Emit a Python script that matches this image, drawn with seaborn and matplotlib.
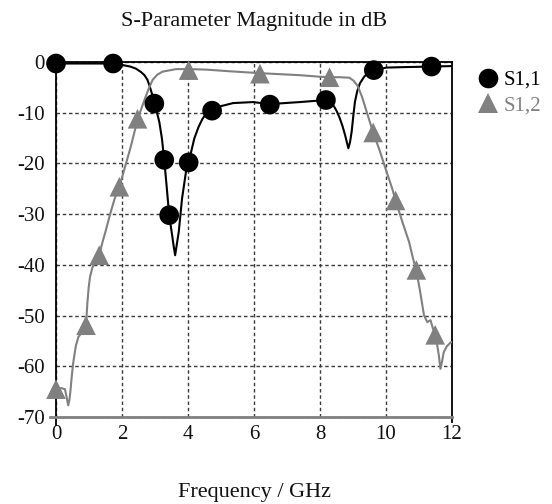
import matplotlib
matplotlib.use("Agg")
import matplotlib.pyplot as plt
import seaborn as sns
import pandas as pd

# ---- data ----
s11_curve_f = [0.0, 1.0, 1.73, 2.02, 2.25, 2.42, 2.58, 2.68, 2.77, 2.83, 2.91, 2.98,
               3.06, 3.13, 3.21, 3.28, 3.35, 3.43, 3.52, 3.57, 3.61, 3.66, 3.72, 3.82,
               3.94, 4.02, 4.19, 4.32, 4.44, 4.55, 4.73, 5.0, 5.37, 5.97, 6.48, 7.39,
               8.18, 8.30, 8.40, 8.50, 8.60, 8.68, 8.76, 8.82, 8.86, 8.91, 8.96, 9.01,
               9.06, 9.13, 9.21, 9.35, 9.50, 9.63, 10.02, 10.6, 11.38, 12.0]
s11_curve_db = [-0.3, -0.3, -0.3, -0.6, -0.9, -1.3, -2.0, -2.6, -3.5, -4.6, -6.3, -8.2,
                -10.0, -11.8, -15.1, -19.3, -24.3, -30.2, -34.2, -36.5, -38.1, -36.0, -33.5, -26.9,
                -21.6, -19.8, -15.1, -12.8, -11.2, -10.2, -9.6, -8.7, -8.1, -7.9, -8.3, -7.9,
                -7.5, -7.8, -8.5, -9.6, -11.1, -12.6, -14.4, -16.0, -17.0, -15.8, -13.7, -10.6,
                -7.8, -5.7, -4.2, -2.8, -2.1, -1.6, -1.1, -1.0, -0.9, -0.8]

s12_curve_f = [0.0, 0.15, 0.27, 0.32, 0.37, 0.41, 0.44, 0.48, 0.52, 0.6, 0.68, 0.8,
               0.91, 0.95, 0.99, 1.03, 1.1, 1.18, 1.31, 1.41, 1.51, 1.64, 1.77, 1.92,
               2.07, 2.27, 2.47, 2.58, 2.68, 2.80, 2.93, 3.07, 3.23, 3.64, 4.02, 4.55,
               5.2, 6.18, 7.39, 7.99, 8.29, 8.6, 8.89, 9.02, 9.14, 9.27, 9.39, 9.50,
               9.61, 9.79, 9.99, 10.19, 10.29, 10.5, 10.7, 10.81, 10.92, 11.02, 11.15, 11.25,
               11.35, 11.42, 11.49, 11.55, 11.6, 11.65, 11.70, 11.75, 11.85, 11.96, 12.0]
s12_curve_db = [-64.5, -64.3, -64.5, -66.0, -67.7, -66.5, -64.7, -61.8, -59.4, -56.0, -54.2, -53.2,
                -51.9, -47.6, -44.5, -42.4, -40.6, -39.4, -38.1, -35.5, -33.2, -30.0, -27.1, -24.6,
                -21.2, -16.6, -11.4, -9.3, -7.5, -5.4, -3.5, -2.5, -1.9, -1.4, -1.4, -1.5,
                -1.8, -2.2, -2.6, -2.9, -3.0, -3.0, -3.1, -3.7, -4.7, -6.8, -9.3, -11.6,
                -13.9, -17.1, -21.1, -25.0, -27.3, -31.6, -35.5, -38.5, -41.2, -44.7, -49.9, -51.3,
                -50.9, -52.5, -53.9, -55.8, -57.8, -60.5, -59.0, -57.2, -56.0, -55.3, -55.2]

s11_mark_f = [0.0, 1.73, 2.98, 3.28, 3.43, 4.02, 4.73, 6.48, 8.18, 9.63, 11.38]
s11_mark_db = [-0.3, -0.3, -8.2, -19.3, -30.2, -19.8, -9.6, -8.4, -7.5, -1.6, -0.9]

s12_mark_f = [0.0, 0.91, 1.31, 1.92, 2.47, 4.02, 6.18, 8.29, 9.61, 10.29, 10.92, 11.49]
s12_mark_db = [-64.5, -51.9, -38.1, -24.6, -11.2, -1.6, -2.3, -3.0, -13.9, -27.3, -41.0, -53.8]

series_names = ["S1,1", "S1,2"]
x_ticks = [0, 2, 4, 6, 8, 10, 12]
y_ticks = [0, -10, -20, -30, -40, -50, -60, -70]
title = "S-Parameter Magnitude in dB"
x_label = "Frequency / GHz"

# ---- style ----
sns.set_style("white")
plt.rcParams["font.family"] = ["Liberation Serif", "DejaVu Serif"]
plt.rcParams["axes.unicode_minus"] = False

colors = {"S1,1": "#000000", "S1,2": "#808080"}
markers = {"S1,1": "o", "S1,2": "^"}

curves = pd.concat([
    pd.DataFrame({"f": s11_curve_f, "db": s11_curve_db, "series": series_names[0]}),
    pd.DataFrame({"f": s12_curve_f, "db": s12_curve_db, "series": series_names[1]}),
])
marks = pd.concat([
    pd.DataFrame({"f": s11_mark_f, "db": s11_mark_db, "series": series_names[0]}),
    pd.DataFrame({"f": s12_mark_f, "db": s12_mark_db, "series": series_names[1]}),
])

fig = plt.figure(figsize=(5.52, 5.04), dpi=100)
ax = fig.add_axes([56 / 552, 1 - 417 / 504, (452 - 56) / 552, (417 - 62) / 504])

sns.lineplot(data=curves, x="f", y="db", hue="series", palette=colors,
             estimator=None, sort=False, linewidth=1.5, legend=False, ax=ax, zorder=3)
sns.scatterplot(data=marks, x="f", y="db", hue="series", style="series",
                palette=colors, markers=markers, s=200, edgecolor="none",
                ax=ax, zorder=4, clip_on=False)

ax.set_xlim(0, 12)
ax.set_ylim(-70, 0)
ax.set_xticks(x_ticks)
ax.set_yticks(y_ticks)
ax.set_xticklabels([str(t) for t in x_ticks])
ax.set_yticklabels([str(t) for t in y_ticks])
ax.tick_params(axis="both", length=0, labelsize=15, colors="#111111")
ax.tick_params(axis="y", pad=8)
ax.tick_params(axis="x", pad=6)

ax.grid(True, color="#3a3a3a", linestyle=(0, (2.5, 2.0)), linewidth=1.0)
ax.set_axisbelow(True)

for side in ["left", "top", "right"]:
    ax.spines[side].set_color("#000000")
    ax.spines[side].set_linewidth(1.3)
ax.spines["bottom"].set_color("#808080")
ax.spines["bottom"].set_linewidth(2.0)
ax.spines["left"].set_bounds(-71.6, 0)
ax.spines["right"].set_bounds(-71.0, 0)
ax.spines["bottom"].set_bounds(-0.18, 12)

ax.set_title(title, fontsize=16, pad=26, color="#111111")
ax.set_xlabel(x_label, fontsize=16, labelpad=28, color="#111111")
ax.set_ylabel("")

handles, labels = ax.get_legend_handles_labels()
leg = ax.legend(handles, labels, loc="upper left", bbox_to_anchor=(1.043, 1.0),
                frameon=False, fontsize=15, handletextpad=0.25, handlelength=1.0,
                labelspacing=0.3, borderaxespad=0.0, markerscale=1.0,
                labelcolor=[colors[n] for n in labels])

fig.savefig("out.png", dpi=100)
